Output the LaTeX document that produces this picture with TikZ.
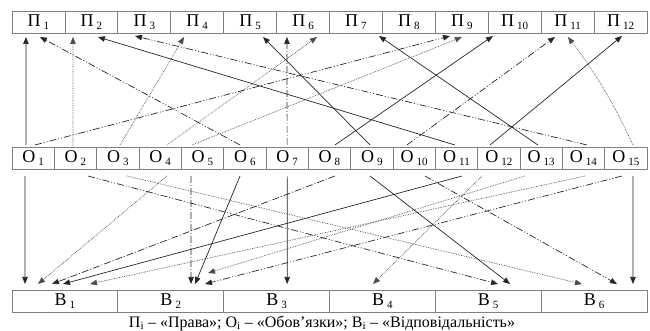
\documentclass[tikz,border=0pt]{standalone}
\usepackage{fontspec}
\setmainfont{Liberation Serif}
\usepackage{tikz}
\usetikzlibrary{arrows.meta,positioning}

\newcommand{\subl}[2]{#1\,\raisebox{-0.3ex}{\fontsize{11}{11}\selectfont #2}}

\begin{document}
\begin{tikzpicture}[
  x=1pt,y=1pt,
  >={Triangle[length=7pt,width=5.5pt]},
  box/.style={draw=black!50,line width=0.7pt,inner sep=0pt,outer sep=0pt,
              minimum height=22pt,font=\fontsize{18}{20}\selectfont},
  pbox/.style={box,minimum width=52.92pt},
  obox/.style={box,minimum width=42.33pt},
  bbox/.style={box,minimum width=105.83pt},
  link/.style={->,line width=0.7pt,black!85},
  solidln/.style={link},
  dotln/.style={link,densely dotted,black!70},
  dashdot/.style={link,dash pattern=on 7pt off 2pt on 1pt off 2pt},
  dashdotdot/.style={link,dash pattern=on 7pt off 2pt on 1pt off 2pt on 1pt off 2pt},
]
\useasboundingbox (0,0) rectangle (650,331);

% ---- rights (top row) ---------------------------------------------------
\node[pbox,anchor=north west] (P1) at (12,320) {\subl{П}{1}};
\node[pbox,right=0pt of P1]  (P2)  {\subl{П}{2}};
\node[pbox,right=0pt of P2]  (P3)  {\subl{П}{3}};
\node[pbox,right=0pt of P3]  (P4)  {\subl{П}{4}};
\node[pbox,right=0pt of P4]  (P5)  {\subl{П}{5}};
\node[pbox,right=0pt of P5]  (P6)  {\subl{П}{6}};
\node[pbox,right=0pt of P6]  (P7)  {\subl{П}{7}};
\node[pbox,right=0pt of P7]  (P8)  {\subl{П}{8}};
\node[pbox,right=0pt of P8]  (P9)  {\subl{П}{9}};
\node[pbox,right=0pt of P9]  (P10) {\subl{П}{10}};
\node[pbox,right=0pt of P10] (P11) {\subl{П}{11}};
\node[pbox,right=0pt of P11] (P12) {\subl{П}{12}};

% ---- duties (middle row) ------------------------------------------------
\node[obox,anchor=north west] (O1) at (12,184) {\subl{О}{1}};
\node[obox,right=0pt of O1]  (O2)  {\subl{О}{2}};
\node[obox,right=0pt of O2]  (O3)  {\subl{О}{3}};
\node[obox,right=0pt of O3]  (O4)  {\subl{О}{4}};
\node[obox,right=0pt of O4]  (O5)  {\subl{О}{5}};
\node[obox,right=0pt of O5]  (O6)  {\subl{О}{6}};
\node[obox,right=0pt of O6]  (O7)  {\subl{О}{7}};
\node[obox,right=0pt of O7]  (O8)  {\subl{О}{8}};
\node[obox,right=0pt of O8]  (O9)  {\subl{О}{9}};
\node[obox,right=0pt of O9]  (O10) {\subl{О}{10}};
\node[obox,right=0pt of O10] (O11) {\subl{О}{11}};
\node[obox,right=0pt of O11] (O12) {\subl{О}{12}};
\node[obox,right=0pt of O12] (O13) {\subl{О}{13}};
\node[obox,right=0pt of O13] (O14) {\subl{О}{14}};
\node[obox,right=0pt of O14] (O15) {\subl{О}{15}};

% ---- responsibility (bottom row) ----------------------------------------
\node[bbox,anchor=north west] (B1) at (12,41) {\subl{В}{1}};
\node[bbox,right=0pt of B1] (B2) {\subl{В}{2}};
\node[bbox,right=0pt of B2] (B3) {\subl{В}{3}};
\node[bbox,right=0pt of B3] (B4) {\subl{В}{4}};
\node[bbox,right=0pt of B4] (B5) {\subl{В}{5}};
\node[bbox,right=0pt of B5] (B6) {\subl{В}{6}};

\node[font=\fontsize{16}{17}\selectfont] (cap) at (322,8)
  {П\textsubscript{i} – «Права»; О\textsubscript{i} – «Обов’язки»; В\textsubscript{i} – «Відповідальність»};

% ---- duties -> rights ---------------------------------------------------
\draw[solidln]    ([shift={(-7.2,2)}]O1.north)  -- ([shift={(-12.5,-4)}]P1.south);
\draw[dashdotdot] ([shift={(-4.8,2)}]O6.north)  -- ([shift={(1.5,-4)}]P1.south);
\draw[dotln]      ([shift={(-2.5,2)}]O2.north)  -- ([shift={(-18.4,-4)}]P2.south);
\draw[solidln]    ([shift={(-1.5,2)}]O11.north) -- ([shift={(6.6,-4)}]P2.south);
\draw[dashdotdot] ([shift={(3.5,2)}]O14.north)  -- ([shift={(-9.3,-3)}]P3.south);
\draw[dotln]      ([shift={(2.2,2)}]O3.north)   -- ([shift={(-13.2,-4)}]P4.south);
\draw[solidln]    ([shift={(-1.8,2)}]O9.north)  -- ([shift={(12.9,-4)}]P5.south);
\draw[dashdot]    ([shift={(0,2)}]O7.north)     -- ([shift={(-16.1,-4)}]P6.south);
\draw[dotln]      ([shift={(6.8,2)}]O4.north)   -- ([shift={(13.9,-4)}]P6.south);
\draw[solidln]    ([shift={(-3.2,2)}]O13.north) -- ([shift={(23,-3)}]P7.south);
\draw[dashdotdot] ([shift={(1.8,2)}]O1.north)   -- ([shift={(-11.8,-3)}]P9.south);
\draw[dotln]      ([shift={(-10.5,2)}]O5.north) -- ([shift={(0.2,-4)}]P9.south);
\draw[solidln]    ([shift={(5.5,2)}]O8.north)   -- ([shift={(-21.8,-3)}]P10.south);
\draw[dashdotdot] ([shift={(-7.2,2)}]O10.north) -- ([shift={(-12.7,-4)}]P11.south);
\draw[dotln]      ([shift={(7.2,2)}]O15.north)  to[bend right=6] ([shift={(0.3,-4)}]P11.south);
\draw[solidln]    ([shift={(-8.8,2)}]O12.north) -- ([shift={(1.4,-3)}]P12.south);

% ---- duties -> responsibility -------------------------------------------
\draw[solidln]    ([shift={(-8.2,-7)}]O1.south)  -- ([shift={(-39.9,6)}]B1.north);
\draw[dotln]      ([shift={(6.8,-7)}]O4.south)   -- ([shift={(-26.9,6)}]B1.north);
\draw[dashdot]    ([shift={(5.5,-7)}]O8.south)   -- ([shift={(-12.9,6)}]B1.north);
\draw[solidln]    ([shift={(5.5,-7)}]O11.south)  -- ([shift={(-1.9,6)}]B1.north);
\draw[dotln]      ([shift={(1.5,-7)}]O14.south)  -- ([shift={(25.1,6)}]B1.north);
\draw[dashdot]    ([shift={(-11.5,-7)}]O5.south) -- ([shift={(20.3,6)}]B2.north);
\draw[solidln]    ([shift={(-4.8,-7)}]O6.south)  -- ([shift={(24.3,6)}]B2.north);
\draw[dotln]      ([shift={(-16.2,-7)}]O13.south) -- ([shift={(37.3,17)}]B2.north);
\draw[dashdotdot] ([shift={(-3.8,-7)}]O15.south) -- ([shift={(34.3,6)}]B2.north);
\draw[solidln]    ([shift={(0,-7)}]O7.south)     -- ([shift={(10.6,6)}]B3.north);
\draw[dotln]      ([shift={(-16.8,-7)}]O12.south) -- ([shift={(-9.4,6)}]B4.north);
\draw[dashdotdot] ([shift={(12.5,-7)}]O2.south)  -- ([shift={(9.8,6)}]B5.north);
\draw[solidln]    ([shift={(-1.8,-7)}]O9.south)  -- ([shift={(21.8,6)}]B5.north);
\draw[dotln]      ([shift={(9.2,-7)}]O3.south)   -- ([shift={(-12.1,6)}]B6.north);
\draw[dashdotdot] ([shift={(10.8,-7)}]O10.south) -- ([shift={(22.9,6)}]B6.north);
\draw[solidln]    ([shift={(7.2,-7)}]O15.south)  -- ([shift={(38.9,6)}]B6.north);

\end{tikzpicture}
\end{document}
